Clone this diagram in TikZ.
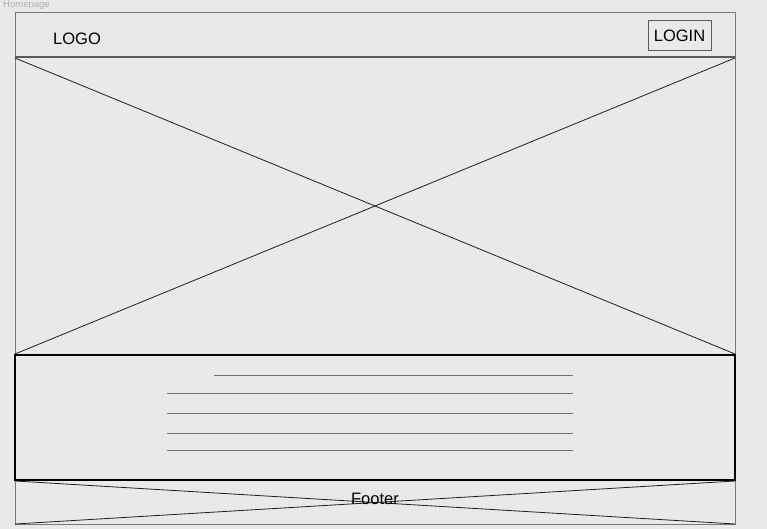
\documentclass[tikz,border=0pt]{standalone}
\usepackage{fontspec}
\setmainfont{Liberation Sans}
\definecolor{bg}{RGB}{233,233,233}
\definecolor{frame}{RGB}{120,120,120}
\definecolor{hdr}{RGB}{90,90,90}
\definecolor{xline}{RGB}{30,30,30}
\definecolor{tline}{RGB}{115,115,115}
\definecolor{lbl}{RGB}{175,175,175}
\begin{document}
\begin{tikzpicture}[x=1pt,y=-1pt,
  framebox/.style={draw=frame,line width=0.9pt},
  hdrline/.style={draw=hdr,line width=2pt},
  xl/.style={draw=xline,line width=0.8pt},
  secbox/.style={draw=black,line width=1.2pt},
  txtline/.style={draw=tline,line width=0.9pt},
  loginbox/.style={draw=hdr,line width=1pt,inner sep=0pt,minimum width=63pt,minimum height=30pt,font=\fontsize{16.5}{18}\selectfont},
  lab/.style={inner sep=0pt,font=\fontsize{16.5}{18}\selectfont}]
\fill[bg] (0,0) rectangle (767,529);
\useasboundingbox (0,0) rectangle (767,529);
% page label
\node[anchor=west,inner sep=0pt,text=lbl,font=\fontsize{9.5}{10}\selectfont] (pagelabel) at (3,5) {Homepage};
% outer frame
\coordinate (ftl) at (15,12.5);
\coordinate (fbr) at (735,524);
\draw[framebox] (ftl) rectangle (fbr);
% header
\node[lab,anchor=west] (logo) at (53,39) {LOGO};
\node[loginbox] (login) at (679.5,36) {LOGIN};
% image placeholder
\coordinate (itl) at (15,58);
\coordinate (itr) at (735,58);
\coordinate (ibl) at (15,354);
\coordinate (ibr) at (735,354);
\draw[xl] (itl) -- (ibr);
\draw[xl] (itr) -- (ibl);
\draw[hdrline] (15,57) -- (735,57);
% text section
\coordinate (stl) at (15,355);
\coordinate (sbr) at (735,480);
\draw[secbox] (stl) rectangle (sbr);
\coordinate (l1a) at (214,375.5); \coordinate (l1b) at (573,375.5);
\coordinate (l2a) at (167,393); \coordinate (l2b) at (573,393);
\coordinate (l3a) at (167,413); \coordinate (l3b) at (573,413);
\coordinate (l4a) at (167,433); \coordinate (l4b) at (573,433);
\coordinate (l5a) at (167,450.5); \coordinate (l5b) at (573,450.5);
\draw[txtline] (l1a) -- (l1b);
\draw[txtline] (l2a) -- (l2b);
\draw[txtline] (l3a) -- (l3b);
\draw[txtline] (l4a) -- (l4b);
\draw[txtline] (l5a) -- (l5b);
% footer
\coordinate (otl) at (15,481);
\coordinate (otr) at (735,481);
\coordinate (obl) at (15,524);
\coordinate (obr) at (735,524);
\draw[xl] (otl) -- (obr);
\draw[xl] (otr) -- (obl);
\node[lab] (footer) at (375,499) {Footer};
\end{tikzpicture}
\end{document}
